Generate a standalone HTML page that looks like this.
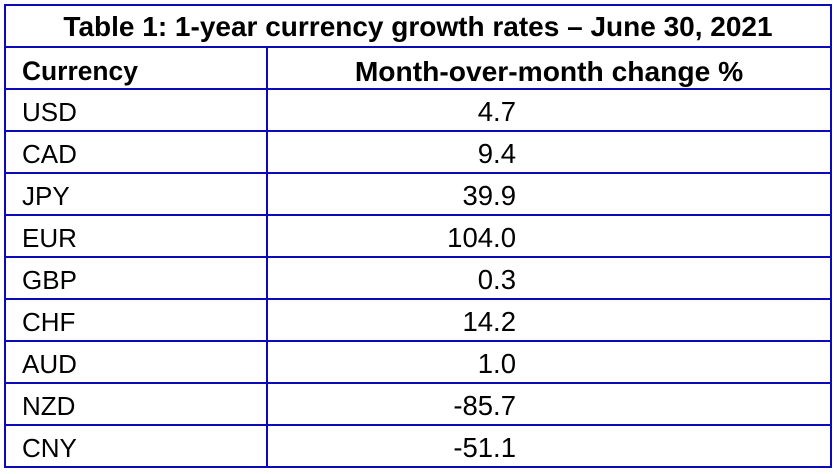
<!DOCTYPE html>
<html>
<head>
<meta charset="utf-8">
<style>
  html, body { margin:0; padding:0; background:#ffffff; }
  body { width:838px; height:474px; position:relative; overflow:hidden; font-family:"Liberation Sans", Arial, sans-serif; color:#000; }
  .h { position:absolute; left:4px; width:828px; height:2px; background:#0a0ab8; }
  .v { position:absolute; width:2px; background:#0a0ab8; }
  .t { position:absolute; height:42px; line-height:42px; white-space:nowrap; }
  .lab { left:22px; font-size:26px; }
  .val { left:300px; width:216px; text-align:right; font-size:27.5px; }
</style>
</head>
<body>
  <!-- horizontal lines -->
  <div class="h" style="top:4px"></div>
  <div class="h" style="top:46px"></div>
  <div class="h" style="top:88px"></div>
  <div class="h" style="top:130px"></div>
  <div class="h" style="top:172px"></div>
  <div class="h" style="top:214px"></div>
  <div class="h" style="top:256px"></div>
  <div class="h" style="top:298px"></div>
  <div class="h" style="top:340px"></div>
  <div class="h" style="top:382px"></div>
  <div class="h" style="top:424px"></div>
  <div class="h" style="top:466px"></div>
  <!-- vertical lines -->
  <div class="v" style="left:4px; top:4px; height:464px;"></div>
  <div class="v" style="left:830px; top:4px; height:464px;"></div>
  <div class="v" style="left:266px; top:46px; height:422px;"></div>

  <!-- title -->
  <div class="t" style="left:4px; width:828px; top:6px; text-align:center; font-weight:bold; font-size:28px;">Table 1: 1-year currency growth rates – June 30, 2021</div>

  <!-- header -->
  <div class="t" style="left:22px; top:50px; font-weight:bold; font-size:26.4px;">Currency</div>
  <div class="t" style="left:268px; width:562px; top:50px; text-align:center; font-weight:bold; font-size:28.2px;">Month-over-month change %</div>

  <!-- rows -->
  <div class="t lab" style="top:91px">USD</div>
  <div class="t val" style="top:91px">4.7</div>

  <div class="t lab" style="top:133px">CAD</div>
  <div class="t val" style="top:133px">9.4</div>

  <div class="t lab" style="top:175px">JPY</div>
  <div class="t val" style="top:175px">39.9</div>

  <div class="t lab" style="top:217px">EUR</div>
  <div class="t val" style="top:217px">104.0</div>

  <div class="t lab" style="top:259px">GBP</div>
  <div class="t val" style="top:259px">0.3</div>

  <div class="t lab" style="top:301px">CHF</div>
  <div class="t val" style="top:301px">14.2</div>

  <div class="t lab" style="top:343px">AUD</div>
  <div class="t val" style="top:343px">1.0</div>

  <div class="t lab" style="top:385px">NZD</div>
  <div class="t val" style="top:385px">-85.7</div>

  <div class="t lab" style="top:427px">CNY</div>
  <div class="t val" style="top:427px">-51.1</div>
</body>
</html>
